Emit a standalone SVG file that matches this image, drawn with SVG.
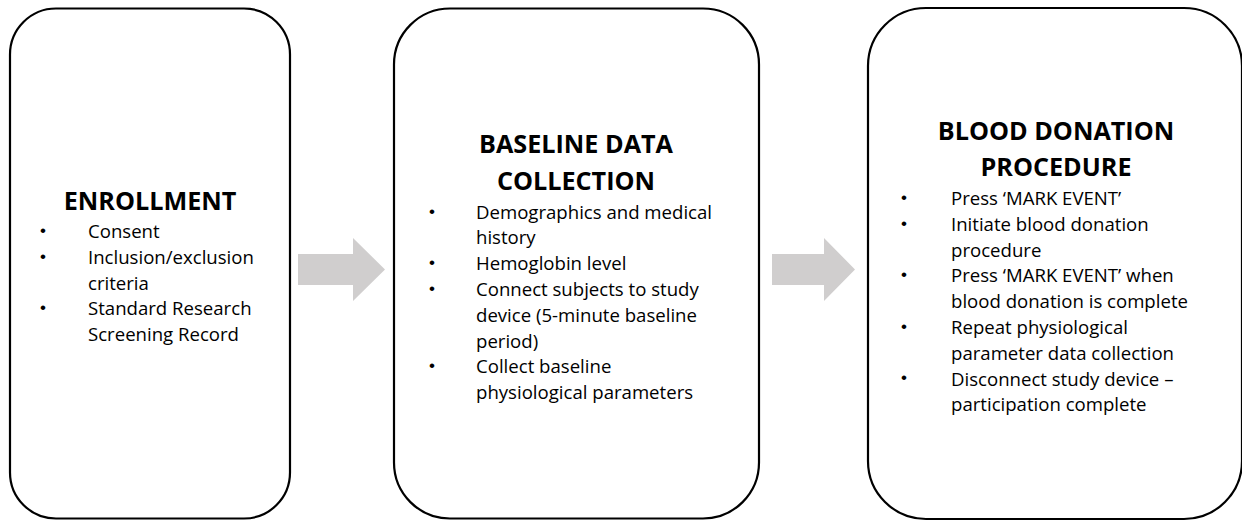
<svg xmlns="http://www.w3.org/2000/svg" width="1242" height="521" viewBox="0 0 1242 521">
<style>
.box{fill:#ffffff;stroke:#000000;stroke-width:2.2}
.arrow{fill:#d0cece;stroke:none}
.title{font-family:"Open Sans","Liberation Sans",sans-serif;font-weight:bold;font-size:25.2px;fill:#000;text-anchor:middle}
.body{font-family:"Open Sans","Liberation Sans",sans-serif;font-size:18.6px;fill:#000}
.bul{font-family:"Liberation Sans",sans-serif;font-size:17px;fill:#000;text-anchor:middle}
</style>
<rect width="1242" height="521" fill="#ffffff"/>
<g id="connectors">
<polygon class="arrow" points="298,254 353,254 353,238 385,269.5 353,301 353,285 298,285"/>
<polygon class="arrow" points="772,254 824,254 824,238 855,269.5 824,301 824,285 772,285"/>
</g>
<g id="enrollment">
<rect class="box" x="10" y="8.5" width="280" height="510" rx="46" ry="46"/>
<text class="title" x="150" y="210">ENROLLMENT</text>
<text class="bul" x="43" y="236">•</text>
<text class="body" x="88" y="238">Consent</text>
<text class="bul" x="43" y="262">•</text>
<text class="body" x="88" y="264">Inclusion/exclusion</text>
<text class="body" x="88" y="289.5">criteria</text>
<text class="bul" x="43" y="313">•</text>
<text class="body" x="88" y="315">Standard Research</text>
<text class="body" x="88" y="341">Screening Record</text>
</g>
<g id="baseline">
<rect class="box" x="394" y="8.5" width="365" height="510" rx="56" ry="56"/>
<text class="title" x="576" y="153">BASELINE DATA</text>
<text class="title" x="576" y="190">COLLECTION</text>
<text class="bul" x="432" y="216.5">•</text>
<text class="body" x="476" y="218.5">Demographics and medical</text>
<text class="body" x="476" y="244.3">history</text>
<text class="bul" x="432" y="268">•</text>
<text class="body" x="476" y="270">Hemoglobin level</text>
<text class="bul" x="432" y="294">•</text>
<text class="body" x="476" y="296">Connect subjects to study</text>
<text class="body" x="476" y="321.7">device (5-minute baseline</text>
<text class="body" x="476" y="347.5">period)</text>
<text class="bul" x="432" y="371">•</text>
<text class="body" x="476" y="373.3">Collect baseline</text>
<text class="body" x="476" y="399">physiological parameters</text>
</g>
<g id="donation">
<rect class="box" x="868" y="8" width="374" height="511" rx="58" ry="58"/>
<text class="title" x="1056" y="140">BLOOD DONATION</text>
<text class="title" x="1056" y="176">PROCEDURE</text>
<text class="bul" x="904" y="203">•</text>
<text class="body" x="951" y="205">Press ‘MARK EVENT’</text>
<text class="bul" x="904" y="229">•</text>
<text class="body" x="951" y="231">Initiate blood donation</text>
<text class="body" x="951" y="256.5">procedure</text>
<text class="bul" x="904" y="280">•</text>
<text class="body" x="951" y="282.3">Press ‘MARK EVENT’ when</text>
<text class="body" x="951" y="308">blood donation is complete</text>
<text class="bul" x="904" y="332">•</text>
<text class="body" x="951" y="334">Repeat physiological</text>
<text class="body" x="951" y="359.7">parameter data collection</text>
<text class="bul" x="904" y="383">•</text>
<text class="body" x="951" y="385.5">Disconnect study device –</text>
<text class="body" x="951" y="411.3">participation complete</text>
</g>
</svg>
